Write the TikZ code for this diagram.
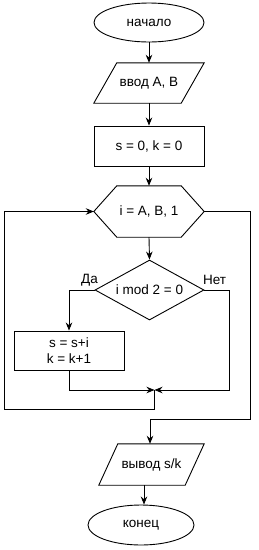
\documentclass[tikz,border=0pt]{standalone}
\usepackage{fontspec}
\setmainfont{Liberation Sans}
\usetikzlibrary{shapes.geometric,arrows.meta}

\begin{document}
\begin{tikzpicture}[x=1pt,y=-1pt,
    font=\fontsize{13.5}{16}\selectfont,
    blok/.style={rectangle,draw,line width=0.9pt,fill=white,
                 minimum width=110pt,minimum height=40pt,inner sep=0pt},
    term/.style={ellipse,draw,line width=0.9pt,fill=white,
                 minimum width=110pt,minimum height=39pt,inner sep=0pt},
    pusto/.style={rectangle,inner sep=0pt},
    uslovie/.style={diamond,draw,line width=0.9pt,fill=white,aspect=1.8,
                 minimum width=109pt,minimum height=60pt,inner sep=0pt},
    strelka/.style={line width=0.9pt,-{Stealth[length=8pt,width=6.5pt]}},
    liniya/.style={line width=0.9pt}]

  \useasboundingbox (0,0) rectangle (259,550);

  \node[term]    (nach)  at (149,22.5)  {начало};
  \node[pusto,minimum width=87pt,minimum height=40pt]
                 (vvodAB) at (149,83)   {ввод А, В};
  \node[blok]    (init)  at (149,146)   {s = 0, k = 0};
  \node[pusto,minimum width=64pt,minimum height=51pt]
                 (cikl)  at (149,211.5) {i = A, B, 1};
  \node[uslovie] (usl)   at (149.5,290) {i mod 2 = 0};
  \node[blok,align=center,minimum height=39pt]
                 (telo)  at (69,350.5)  {s = s+i\\k = k+1};
  \node[pusto,minimum width=86pt,minimum height=41pt]
                 (vyvod) at (151.5,464.5) {вывод s/k};
  \node[term,minimum width=106pt,minimum height=40pt]
                 (kon)   at (141,525)   {конец};

  % параллелограммы ввода и вывода
  \draw[liniya] ([xshift=11.5pt]vvodAB.north west) -- ([xshift=11.5pt]vvodAB.north east)
    -- ([xshift=-11.5pt]vvodAB.south east) -- ([xshift=-11.5pt]vvodAB.south west) -- cycle;
  \draw[liniya] ([xshift=9.5pt]vyvod.north west) -- ([xshift=9.5pt]vyvod.north east)
    -- ([xshift=-9.5pt]vyvod.south east) -- ([xshift=-9.5pt]vyvod.south west) -- cycle;

  % шестиугольник цикла
  \coordinate (ciklL) at ([xshift=-23pt]cikl.west);
  \coordinate (ciklR) at ([xshift=23pt]cikl.east);
  \draw[liniya] (cikl.north west) -- (cikl.north east) -- (ciklR)
    -- (cikl.south east) -- (cikl.south west) -- (ciklL) -- cycle;

  \coordinate (sbor)  at (154.5,390);
  \coordinate (net)   at (229,390);
  \coordinate (nazad) at (4,409);
  \coordinate (vyhod) at (250,419);
  \coordinate (vyvodS) at ([xshift=-7.5pt]vyvod.south);

  \draw[strelka] (nach) -- (vvodAB);
  \draw[strelka] (vvodAB) -- (init);
  \draw[strelka] (init) -- (cikl.north);
  \draw[strelka] (cikl.south) -- (usl.north);
  \draw[strelka] (usl.west) -| (telo.north);
  \draw[strelka] (usl.east) -| (net) -- (sbor);
  \draw[strelka] (telo.south) |- (sbor);
  \draw[strelka] (sbor) |- (nazad) |- (ciklL);
  \draw[strelka] (ciklR) -| (vyhod) -| ([xshift=-1.5pt]vyvod.north);
  \draw[strelka] (vyvodS) -- (vyvodS |- kon.north);

  \node (da)  at (89.5,280) {Да};
  \node (net1) at (214.5,280) {Нет};

\end{tikzpicture}
\end{document}
